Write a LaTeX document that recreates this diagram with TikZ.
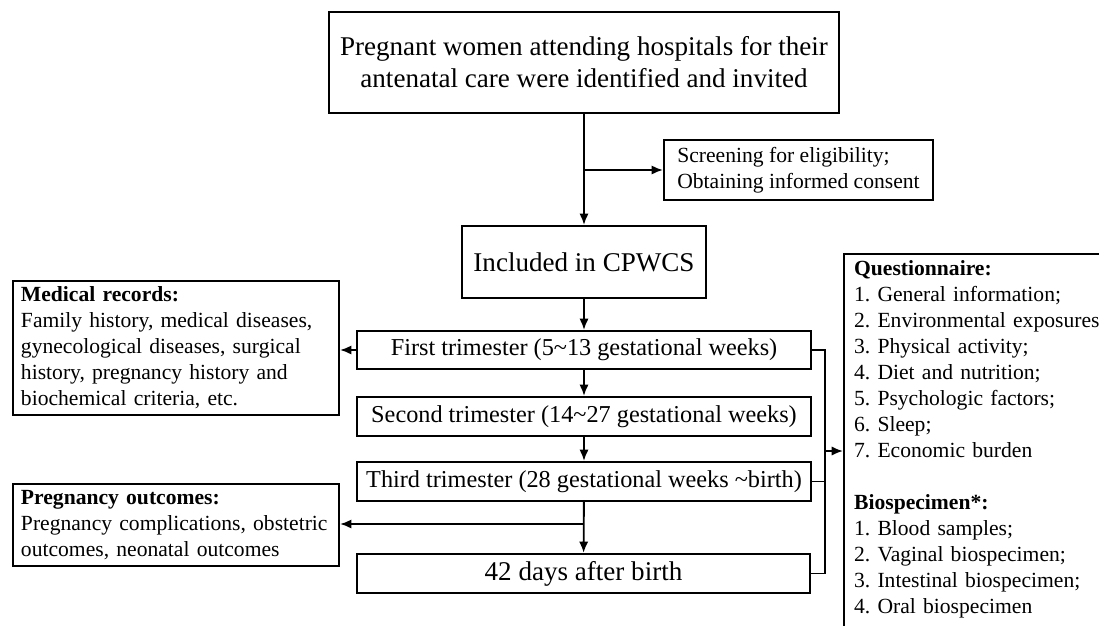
\documentclass[tikz,border=0pt]{standalone}
\usepackage{fontspec}
\setmainfont{Liberation Serif}
\frenchspacing
\usetikzlibrary{arrows.meta}
\tikzset{
  box/.style={draw, line width=1.7pt, inner sep=0pt, align=center},
  lbox/.style={draw, line width=1.7pt, inner xsep=6pt, inner ysep=0pt, align=left,
     font=\fontsize{16}{19.5}\selectfont},
  big/.style={font=\fontsize{20.3}{24}\selectfont},
  mid/.style={font=\fontsize{18.2}{22}\selectfont},
  small/.style={font=\fontsize{16.2}{19.5}\selectfont},
  conn/.style={line width=1.4pt},
  arr/.style={conn, -{Latex[length=8.5pt,width=7pt]}},
}
\begin{document}
\begin{tikzpicture}[x=0.75pt,y=-0.75pt]
\useasboundingbox (0,0) rectangle (1099,625);
\clip (0,0) rectangle (1099,625);
\node[box,big,minimum width=382.5pt,minimum height=75.75pt] (top) at (584,62.5)
  {Pregnant women attending hospitals for their\\antenatal care were identified and invited};
\node[box,small,align=left,minimum width=201.75pt,minimum height=45pt] (scr) at (798.5,170)
  {Screening for eligibility;\\Obtaining informed consent\hspace{3pt}};
\node[box,big,minimum width=183pt,minimum height=54pt] (inc) at (584,262) {Included in CPWCS};
\node[box,mid,minimum width=340.5pt,minimum height=28.5pt] (t1) at (584,350) {First trimester (5\char"007E 13 gestational weeks)};
\node[box,mid,minimum width=340.5pt,minimum height=29.25pt] (t2) at (584,416.5) {Second trimester (14\char"007E 27 gestational weeks)};
\node[box,mid,minimum width=340.5pt,minimum height=29.25pt] (t3) at (584,481.5) {Third trimester (28 gestational weeks \char"007E birth)};
\node[box,big,minimum width=339.75pt,minimum height=29.25pt] (d42) at (583.5,573.5) {42 days after birth};
\node[lbox,small,minimum width=244.5pt,minimum height=100.5pt,text width=232.5pt] (med) at (176,348)
  {\textbf{Medical records:}\\Family history, medical diseases,\\gynecological diseases, surgical\\history, pregnancy history and\\biochemical criteria, etc.};
\node[lbox,small,minimum width=244.5pt,minimum height=61.5pt,text width=232.5pt] (out) at (176,525)
  {\textbf{Pregnancy outcomes:}\\Pregnancy complications, obstetric\\outcomes, neonatal outcomes};
\node[lbox,small,anchor=north west,inner xsep=7.5pt,inner ysep=5pt,text width=200pt] (q) at (843,253)
  {\textbf{Questionnaire:}\\1. General information;\\2. Environmental exposures;\\3. Physical activity;\\4. Diet and nutrition;\\5. Psychologic factors;\\6. Sleep;\\7. Economic burden\\[19.5pt]\textbf{Biospecimen*:}\\1. Blood samples;\\2. Vaginal biospecimen;\\3. Intestinal biospecimen;\\4. Oral biospecimen\\[20pt]\mbox{}};
\coordinate (b1) at (584,170);
\coordinate (b2) at (584,524);
\coordinate (rx) at (825,451);
\draw[arr] (top) -- (inc);
\draw[arr] (b1) -- (scr.west |- b1);
\draw[arr] (inc) -- (t1);
\draw[arr] (t1) -- (t2);
\draw[arr] (t2) -- (t3);
\draw[arr] (t3) -- (d42);
\draw[arr] (b2) -- (out.east |- b2);
\draw[arr] (t1.west) -- (med.east |- t1.west);
\draw[conn] (t1.east) -| (rx) |- (d42.east);
\draw[conn] (t3.east) -- (rx |- t3.east);
\draw[arr] (rx) -- (q.west |- rx);
\end{tikzpicture}
\end{document}
